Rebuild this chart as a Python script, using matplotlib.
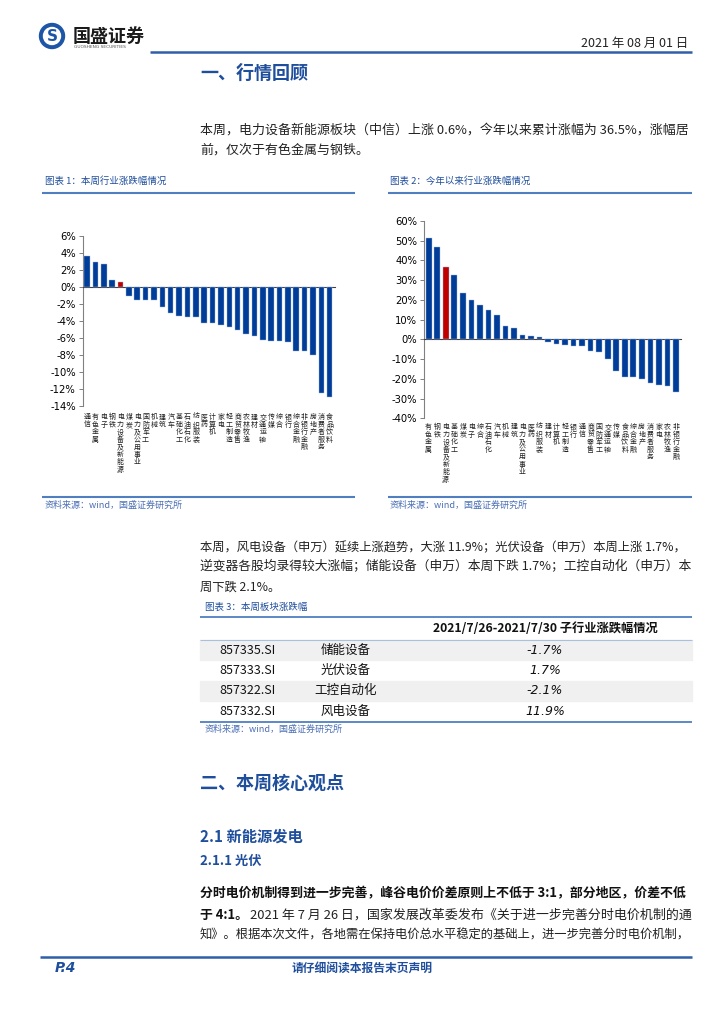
import matplotlib
matplotlib.use('Agg')
import matplotlib.pyplot as plt
import matplotlib.transforms as mtransforms
from matplotlib.patches import Circle, Rectangle

plt.rcParams['font.family'] = ['Noto Sans CJK SC', 'DejaVu Sans']

# 图表1：本周行业涨跌幅
week_names = ['通信', '有色金属', '电子', '钢铁', '电力设备及新能源', '煤炭', '电力及公用事业',
              '国防军工', '机械', '建筑', '汽车', '基础化工', '石油石化', '纺织服装', '医药',
              '计算机', '家电', '轻工制造', '商贸零售', '农林牧渔', '建材', '交通运输', '传媒',
              '综合', '银行', '综合金融', '非银行金融', '房地产', '消费者服务', '食品饮料']
week_values = [3.7, 2.9, 2.7, 0.8, 0.6, -1.1, -1.5, -1.5, -1.6, -2.4, -3.1, -3.4, -3.5, -3.6,
               -4.3, -4.3, -4.5, -4.7, -5.1, -5.6, -5.8, -6.2, -6.4, -6.4, -6.5, -7.5, -7.6,
               -8.0, -12.5, -13.0]

# 图表2：今年以来行业涨跌幅
ytd_names = ['有色金属', '钢铁', '电力设备及新能源', '基础化工', '煤炭', '电子', '综合', '石油石化',
             '汽车', '机械', '建筑', '电力及公用事业', '医药', '纺织服装', '建材', '计算机',
             '轻工制造', '银行', '通信', '商贸零售', '国防军工', '交通运输', '传媒', '食品饮料',
             '综合金融', '房地产', '消费者服务', '家电', '农林牧渔', '非银行金融']
ytd_values = [51.2, 46.8, 36.5, 32.8, 23.3, 19.9, 17.4, 15.0, 12.3, 6.8, 5.9, 2.4, 1.7, 1.2,
              -1.2, -2.2, -2.7, -3.4, -3.5, -6.1, -6.4, -10.0, -16.2, -18.9, -19.3, -20.1,
              -22.1, -23.3, -23.8, -26.9]

highlight = '电力设备及新能源'

# 图表3：本周板块涨跌幅
table_codes = ['857335.SI', '857333.SI', '857322.SI', '857332.SI']
table_names = ['储能设备', '光伏设备', '工控自动化', '风电设备']
table_changes = ['-1.7%', '1.7%', '-2.1%', '11.9%']

W, H = 724, 1024
BLUE = '#1f4e9c'
LINE_BLUE = '#4f7fc0'
BAR_BLUE = '#003d99'
RED = '#c00000'

fig = plt.figure(figsize=(W / 100, H / 100), dpi=100)
bg = fig.add_axes([0, 0, 1, 1])
bg.set_xlim(0, W)
bg.set_ylim(H, 0)
bg.axis('off')


def fit(t, width):
    # 调整字号使文字行宽等于给定像素宽度
    r = fig.canvas.get_renderer()
    w = t.get_window_extent(r).width
    t.set_fontsize(t.get_fontsize() * width / w)
    return t.get_fontsize()


def hline(x0, x1, y, color=LINE_BLUE, lw=1.5):
    bg.plot([x0, x1], [y, y], color=color, lw=lw, solid_capstyle='butt')


# 页眉
bg.add_patch(Circle((52, 36), 12.5, color='#1d56a6'))
bg.add_patch(Circle((52, 36), 8.5, color='white'))
bg.text(52, 36.5, 'S', color='#1d56a6', fontsize=11, fontweight='bold', ha='center', va='center',
        family='DejaVu Sans')
bg.text(73, 36, '国盛证券', fontsize=13, fontweight='bold', color='#1a1a1a', va='center')
bg.text(74, 47, 'GUOSHENG SECURITIES', fontsize=3.2, color='#555555', va='center', family='DejaVu Sans')
bg.text(688, 43, '2021 年 08 月 01 日', fontsize=9, color='#222222', ha='right', va='center')
hline(150, 692, 52, color='#2e5fa8', lw=1.8)

# 一、行情回顾
bg.text(200, 73, '一、行情回顾', fontsize=13, fontweight='bold', color=BLUE, va='center')
t = bg.text(200, 130, '本周，电力设备新能源板块（中信）上涨 0.6%，今年以来累计涨幅为 36.5%，涨幅居',
            fontsize=9.5, color='#222222', va='center')
fs1 = fit(t, 490)
bg.text(200, 150, '前，仅次于有色金属与钢铁。', fontsize=fs1, color='#222222', va='center')

# 图表标题
bg.text(45, 181, '图表 1：本周行业涨跌幅情况', fontsize=6.8, color=BLUE, va='center')
bg.text(390, 181, '图表 2：今年以来行业涨跌幅情况', fontsize=6.8, color=BLUE, va='center')
hline(42, 355, 193)
hline(388, 692, 193)
hline(42, 355, 497)
hline(388, 692, 497)
bg.text(45, 505, '资料来源：wind，国盛证券研究所', fontsize=6.5, color='#4a6fb5', va='center')
bg.text(390, 505, '资料来源：wind，国盛证券研究所', fontsize=6.5, color='#4a6fb5', va='center')


def bar_chart(rect, names, values, ylim, step, label_y, fs_cat):
    ax = fig.add_axes(rect)
    x = list(range(len(values)))
    colors = [RED if n == highlight else BAR_BLUE for n in names]
    ax.bar(x, values, width=0.66, color=colors, edgecolor='#9fb7df', linewidth=0.3, zorder=3)
    ax.set_xlim(-0.52, len(values) - 0.4)
    ax.set_ylim(*ylim)
    ticks = list(range(ylim[0], ylim[1] + 1, step))
    ax.set_yticks(ticks)
    ax.set_yticklabels([f'{v}%' for v in ticks], family='DejaVu Sans', fontsize=7.2)
    ax.tick_params(axis='y', length=3, width=0.7, color='#808080', pad=2)
    ax.set_xticks([])
    for s in ['top', 'right']:
        ax.spines[s].set_visible(False)
    ax.spines['left'].set_color('#808080')
    ax.spines['left'].set_linewidth(0.8)
    ax.spines['bottom'].set_position(('data', 0))
    ax.spines['bottom'].set_color('#404040')
    ax.spines['bottom'].set_linewidth(0.8)
    ax.patch.set_alpha(0)
    trans = mtransforms.blended_transform_factory(ax.transData, ax.transAxes)
    for i, n in enumerate(names):
        ax.text(i, label_y, '\n'.join(n), transform=trans, ha='center', va='top',
                fontsize=fs_cat, linespacing=0.92, color='#222222')
    return ax


bar_chart([82.7 / W, 1 - 405.7 / H, 252 / W, 169.7 / H], week_names, week_values,
          (-14, 6), 2, -0.045, 5.0)
bar_chart([424.3 / W, 1 - 418.3 / H, 256.7 / W, 197.3 / H], ytd_names, ytd_values,
          (-40, 60), 10, -0.025, 5.0)

# 第二段文字
t = bg.text(200, 548, '本周，风电设备（申万）延续上涨趋势，大涨 11.9%；光伏设备（申万）本周上涨 1.7%，',
            fontsize=9.5, color='#222222', va='center')
fs2 = fit(t, 490)
t = bg.text(200, 567, '逆变器各股均录得较大涨幅；储能设备（申万）本周下跌 1.7%；工控自动化（申万）本',
            fontsize=fs2, color='#222222', va='center')
fit(t, 490)
bg.text(200, 587, '周下跌 2.1%。', fontsize=fs2, color='#222222', va='center')

# 图表3 表格
bg.text(205, 607, '图表 3：本周板块涨跌幅', fontsize=6.8, color=BLUE, va='center')
hline(200, 692, 617, lw=1.3)
bg.text(545, 628.5, '2021/7/26-2021/7/30 子行业涨跌幅情况', fontsize=8.8, fontweight='bold',
        color='#111111', ha='center', va='center')
hline(200, 692, 640, color='#a8bfe0', lw=0.8)
row_top = 640
row_h = 20.3
for i, (c, n, v) in enumerate(zip(table_codes, table_names, table_changes)):
    y0 = row_top + i * row_h
    if i % 2 == 0:
        bg.add_patch(Rectangle((200, y0), 492, row_h, color='#f0f0f0', zorder=0))
    yc = y0 + row_h / 2
    bg.text(248, yc, c, fontsize=9, color='#111111', ha='center', va='center')
    bg.text(346, yc, n, fontsize=9, color='#111111', ha='center', va='center')
    bg.text(545, yc, v, fontsize=9, color='#111111', ha='center', va='center', style='italic',
            family='DejaVu Sans')
hline(200, 692, row_top + 4 * row_h + 0.5, lw=1.3)
bg.text(205, 729, '资料来源：wind，国盛证券研究所', fontsize=6.5, color='#4a6fb5', va='center')

# 二、本周核心观点
bg.text(200, 783, '二、本周核心观点', fontsize=13, fontweight='bold', color=BLUE, va='center')
bg.text(200, 837, '2.1 新能源发电', fontsize=11, fontweight='bold', color=BLUE, va='center')
bg.text(200, 861, '2.1.1 光伏', fontsize=9.5, fontweight='bold', color=BLUE, va='center')

t = bg.text(200, 893, '分时电价机制得到进一步完善，峰谷电价价差原则上不低于 3:1，部分地区，价差不低',
            fontsize=9.5, fontweight='bold', color='#111111', va='center')
fs3 = fit(t, 490)
bg.text(200, 915, '于 4:1。', fontsize=fs3, fontweight='bold', color='#111111', va='center')
t = bg.text(250, 915, '2021 年 7 月 26 日，国家发展改革委发布《关于进一步完善分时电价机制的通',
            fontsize=fs3, color='#222222', va='center')
fit(t, 440)
t = bg.text(200, 935, '知》。根据本次文件，各地需在保持电价总水平稳定的基础上，进一步完善分时电价机制，',
            fontsize=fs3, color='#222222', va='center')
fit(t, 490)

# 页脚
hline(40, 692, 957, color='#2e5fa8', lw=1.8)
bg.text(55, 968, 'P.4', fontsize=10, fontweight='bold', style='italic', color=BLUE, va='center',
        family='DejaVu Sans')
bg.text(362, 968, '请仔细阅读本报告末页声明', fontsize=8.5, fontweight='bold', color=BLUE,
        ha='center', va='center')

fig.savefig('out.png', dpi=100)
